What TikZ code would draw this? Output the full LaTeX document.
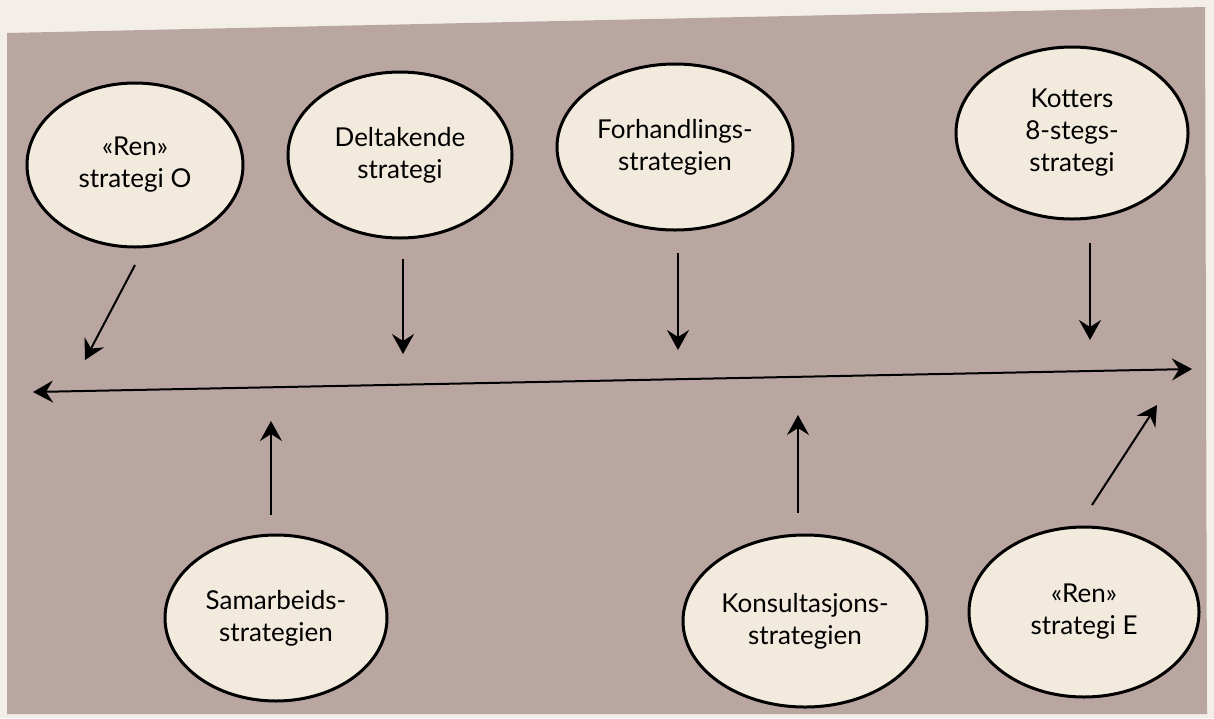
\documentclass[tikz,border=0pt]{standalone}
\usepackage{fontspec}
\setmainfont{Lato}
\usetikzlibrary{shapes.geometric,arrows.meta}
\definecolor{paper}{RGB}{243,239,232}
\definecolor{bgpage}{RGB}{186,166,161}
\definecolor{ovalfill}{RGB}{242,234,220}
\begin{document}
\begin{tikzpicture}[x=1pt,y=-1pt,
  oval/.style={ellipse, draw=black, line width=3pt, fill=ovalfill, inner sep=0pt, align=center,
    font=\fontsize{26}{32}\selectfont},
  arr/.style={line width=2pt, -{Stealth[length=20pt,width=22pt,inset=7pt]}},
  axisline/.style={line width=2pt, {Stealth[length=20pt,width=22pt,inset=7pt]}-{Stealth[length=20pt,width=22pt,inset=7pt]}}]
\useasboundingbox (0,0) rectangle (1214,718);
\fill[paper] (0,0) rectangle (1214,718);
\fill[bgpage] (7,33) -- (1205,7) -- (1207,714) -- (7,714) -- cycle;

\node[oval, minimum width=216pt, minimum height=164pt] (renO) at (135,165) {«Ren»\\strategi O};
\node[oval, minimum width=224pt, minimum height=166pt] (delt) at (400,155) {Deltakende\\strategi};
\node[oval, minimum width=236pt, minimum height=166pt] (forh) at (675,147) {Forhandlings-\\strategien};
\node[oval, minimum width=232pt, minimum height=172pt] (kott) at (1072,133) {Kotters\\8-stegs-\\strategi};
\node[oval, minimum width=222pt, minimum height=166pt] (samb) at (276,618) {Samarbeids-\\strategien};
\node[oval, minimum width=244pt, minimum height=172pt] (kons) at (805,621) {Konsultasjons-\\strategien};
\node[oval, minimum width=230pt, minimum height=170pt] (renE) at (1084,612) {«Ren»\\strategi E};

\coordinate (axL) at (33,392);
\coordinate (axR) at (1192,369);
\draw[axisline] (axL) -- (axR);

\coordinate (s1) at (135,265); \coordinate (e1) at (85,360);
\coordinate (s2) at (403,259); \coordinate (e2) at (403,354);
\coordinate (s3) at (678,253); \coordinate (e3) at (678,350);
\coordinate (s4) at (1090,243); \coordinate (e4) at (1090,340);
\coordinate (s5) at (271,515); \coordinate (e5) at (271,421);
\coordinate (s6) at (798,513); \coordinate (e6) at (798,415);
\coordinate (s7) at (1092,505); \coordinate (e7) at (1157,405);

\draw[arr] (s1) -- (e1);
\draw[arr] (s2) -- (e2);
\draw[arr] (s3) -- (e3);
\draw[arr] (s4) -- (e4);
\draw[arr] (s5) -- (e5);
\draw[arr] (s6) -- (e6);
\draw[arr] (s7) -- (e7);
\end{tikzpicture}
\end{document}
